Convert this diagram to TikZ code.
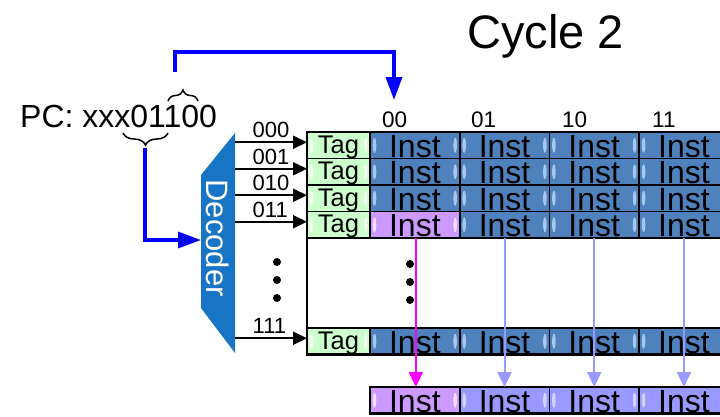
\documentclass[tikz,border=0pt]{standalone}
\usepackage{fontspec}
\setmainfont{Liberation Sans}
\usetikzlibrary{arrows.meta,decorations.pathreplacing,calc}
\definecolor{instblue}{HTML}{4F81BD}
\definecolor{insthl}{HTML}{A6C8EE}
\definecolor{taggreen}{HTML}{CCFFCC}
\definecolor{taghl}{HTML}{F4FFF4}
\definecolor{pinkc}{HTML}{CC99FF}
\definecolor{pinkhl}{HTML}{F6DDFF}
\definecolor{lav}{HTML}{9999FF}
\definecolor{lavhl}{HTML}{D2D2FF}
\definecolor{decblue}{HTML}{1874C4}
\definecolor{pcblue}{HTML}{0000FF}
\definecolor{magc}{HTML}{FF00FF}
\tikzset{
  hl/.style={path picture={
      \fill[#1] ([xshift=4.5pt]path picture bounding box.west) ellipse (1.8pt and 7.5pt);
      \fill[#1] ([xshift=-4.5pt]path picture bounding box.east) ellipse (1.8pt and 7.5pt);}},
  cellbase/.style={draw=black,line width=1.8pt,minimum height=26.5pt,inner sep=0pt,outer sep=0pt},
  bluecell/.style={cellbase,fill=instblue,minimum width=89.7pt,hl=insthl},
  pinkcell/.style={cellbase,fill=pinkc,minimum width=89.7pt,hl=pinkhl},
  lavcell/.style={cellbase,fill=lav,minimum width=89.7pt,hl=lavhl},
  tagbox/.style={cellbase,fill=taggreen,minimum width=63pt,hl=taghl},
  insttext/.style={inner sep=0pt,anchor=base,font=\fontsize{32}{32}\selectfont},
  tagtext/.style={inner sep=0pt,anchor=base,font=\fontsize{25.5}{26}\selectfont},
  lbltext/.style={inner sep=0pt,anchor=base west,font=\fontsize{22}{22}\selectfont},
  collbl/.style={inner sep=0pt,anchor=base west,font=\fontsize{22.5}{23}\selectfont},
  pcarrow/.style={draw=pcblue,line width=3.5pt,-{Triangle[length=23pt,width=16pt]}},
  decarrow/.style={draw=black,line width=2pt,-{Triangle[length=14pt,width=13pt]}},
  selarrow/.style={draw=magc,line width=2pt,-{Triangle[length=15pt,width=14pt]}},
  otharrow/.style={draw=lav,line width=2pt,-{Triangle[length=15pt,width=14pt]}},
  bracestyle/.style={draw=black,line width=1.5pt,decorate},
  dotstyle/.style={fill=black},
}
\begin{document}
\begin{tikzpicture}[x=1pt,y=-1pt]
\useasboundingbox (0,0) rectangle (720,416);
\clip (0,0) rectangle (720,416);

% title
\node[inner sep=0pt,anchor=base west,font=\fontsize{47}{50}\selectfont] (title) at (467,48) {Cycle 2};

% PC
\node[inner sep=0pt,anchor=base west,font=\fontsize{32}{32}\selectfont] (pc) at (20,127) {PC: xxx01100};
\draw[bracestyle,decoration={brace,amplitude=11pt}] (168,101) -- (198,101);
\draw[bracestyle,decoration={brace,amplitude=12pt,mirror}] (123,133) -- (168,133);
\coordinate (ustart) at (175,72);
\coordinate (uend) at (394,100);
\coordinate (lstart) at (145,148);
\coordinate (decin) at (201,240);

% decoder
\fill[decblue] (201,175) -- (235,133) -- (235,353) -- (201,308) -- cycle;
\node[inner sep=0pt,text=white,rotate=-90,font=\fontsize{31}{31}\selectfont] (dec) at (218,238) {Decoder};
\coordinate (decR) at (235,240);

% column labels
\foreach \i/\t/\x in {0/00/382,1/01/471,2/10/562,3/11/652}{
  \node[collbl] (lab\i) at (\x,127) {\t};
}

% table rows
\foreach \r/\y/\t in {0/132/000,1/158.5/001,2/185/010,3/211.5/011,7/328/111}{
  \node[tagbox,anchor=north west] (tag\r) at (307,\y) {};
  \node[tagtext] at ([yshift=5.5pt]tag\r.south) {Tag};
  \foreach \c in {0,1,2,3}{
    \pgfmathsetmacro\xx{370+89.7*\c}
    \ifnum\r=3 \ifnum\c=0 \def\cellsty{pinkcell}\else\def\cellsty{bluecell}\fi\else\def\cellsty{bluecell}\fi
    \node[\cellsty,anchor=north west] (c\r\c) at (\xx,\y) {};
    \node[insttext] at ([yshift=1.5pt]c\r\c.south) {Inst};
  }
  \coordinate (in\r) at ([yshift=3pt]tag\r.west);
  \draw[decarrow] (decR |- in\r) -- (in\r);
  \node[lbltext] (row\r) at ($(decR |- in\r)+(17.5,-4.5)$) {\t};
}
\draw[line width=2.4pt] (tag0.north west) rectangle (c73.south east);

% dots
\foreach \y in {262,280,298}{
  \fill[dotstyle] (277,\y) circle (4pt);
  \fill[dotstyle] (410,\y+2) circle (4pt);
}

% output buffer
\foreach \c in {0,1,2,3}{
  \pgfmathsetmacro\xx{370+89.7*\c}
  \ifnum\c=0 \def\cellsty{pinkcell}\else\def\cellsty{lavcell}\fi
  \node[\cellsty,anchor=north west] (o\c) at (\xx,387) {};
  \node[insttext] at ([yshift=1.5pt]o\c.south) {Inst};
}
\draw[line width=2.4pt] (o0.north west) rectangle (o3.south east);

% selection arrows
\draw[selarrow] ([xshift=1pt]c30.south) -- ([xshift=1pt]o0.north);
\foreach \c in {1,2,3}{
  \draw[otharrow] (c3\c.south) -- (o\c.north);
}

% PC arrows
\draw[pcarrow] (ustart) -- ++(0,-20) -| (uend);
\draw[pcarrow] (lstart) |- (decin);
\end{tikzpicture}
\end{document}
